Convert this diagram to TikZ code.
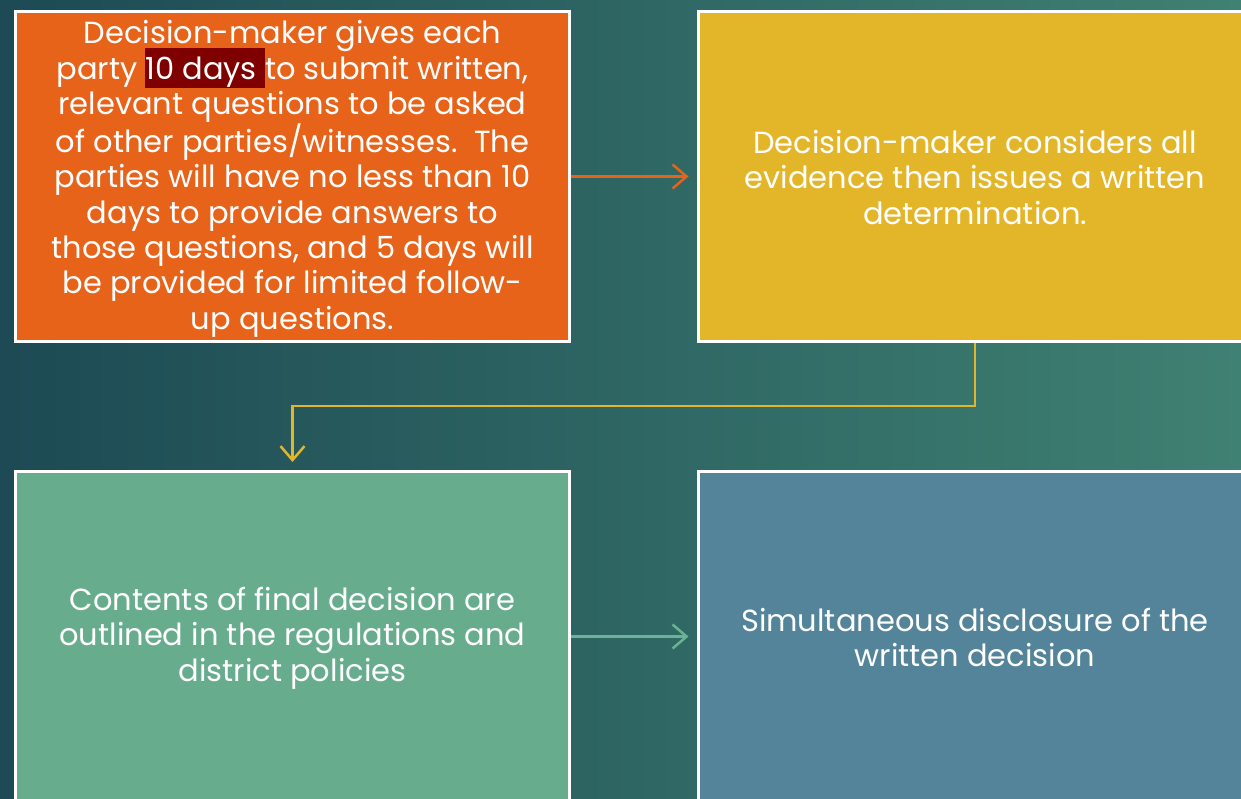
\documentclass[tikz,border=0pt]{standalone}
\usepackage{fontspec}
\setmainfont{Poppins}
\usetikzlibrary{arrows.meta}
\definecolor{bgL}{HTML}{1D4A54}
\definecolor{bgR}{HTML}{3F8172}
\definecolor{orangeC}{HTML}{E8631A}
\definecolor{yellowC}{HTML}{E3B62A}
\definecolor{greenC}{HTML}{68AC8E}
\definecolor{blueC}{HTML}{538499}
\definecolor{hlC}{HTML}{7F0000}
\definecolor{greenA}{HTML}{6BB393}
\newcommand{\hlbox}[1]{\smash{\setlength{\fboxsep}{0pt}\colorbox{hlC}{\rule[-9pt]{0pt}{40pt}#1}}}
\begin{document}
\begin{tikzpicture}[x=1pt,y=-1pt,
  box/.style={draw=white, line width=3pt, minimum width=554pt, minimum height=330pt, inner sep=0pt},
  txt/.style={text=white, align=center, inner sep=0pt, font=\fontsize{30.5}{35.4}\selectfont},
  conn/.style={line width=2.5pt, -{Straight Barb[length=14pt,width=24pt,line width=2.5pt]}}]
\useasboundingbox (0,0) rectangle (1241,798);
\clip (0,0) rectangle (1241,798);
\shade[left color=bgL, right color=bgR] (0,0) rectangle (1241,798);
\node[box, fill=orangeC] (orange) at (292.5,176.5) {};
\node[box, fill=yellowC] (yellow) at (975,176.5) {};
\node[box, fill=greenC] (green) at (292.5,636.5) {};
\node[box, fill=blueC] (blue) at (975,636.5) {};
\node[txt] (orangeT) at (292.5,179) {Decision-maker gives each\\
party \hlbox{10 days\ }to submit written,\\
relevant questions to be asked\\
of other parties/witnesses.\ \ The\\
parties will have no less than 10\\
days to provide answers to\\
those questions, and 5 days will\\
be provided for limited follow-\\
up questions.};
\node[txt] (yellowT) at (975,177.5) {Decision-maker considers all\\
evidence then issues a written\\
determination.};
\node[txt] (greenT) at (292.5,638) {Contents of final decision are\\
outlined in the regulations and\\
district policies};
\node[txt] (blueT) at (975,637.5) {Simultaneous disclosure of the\\
written decision};
\draw[conn, orangeC, shorten >=8pt] (orange.east) -- (yellow.west);
\draw[conn, yellowC, shorten >=8pt] (yellow.south) -- ++(0,63) -| (green.north);
\draw[conn, greenA, shorten >=8pt] (green.east) -- (blue.west);
\end{tikzpicture}
\end{document}
